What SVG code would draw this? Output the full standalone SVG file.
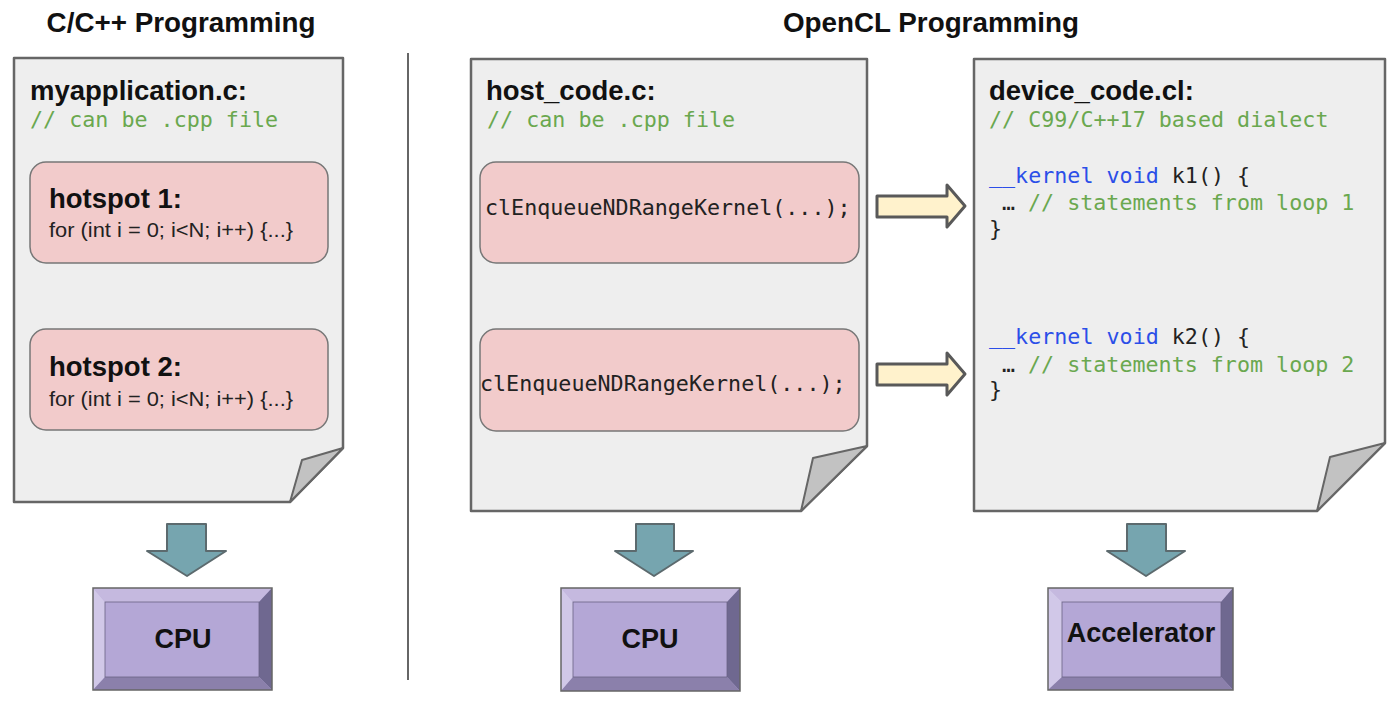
<svg xmlns="http://www.w3.org/2000/svg" width="1400" height="705" viewBox="0 0 1400 705">
<style>
.hdr{font-family:"Liberation Sans",Arial,sans-serif;font-weight:bold;font-size:27.8px;fill:#111}
.ttl{font-family:"Liberation Sans",Arial,sans-serif;font-weight:bold;font-size:27.5px;fill:#111}
.reg{font-family:"Liberation Sans",Arial,sans-serif;font-size:20px;fill:#222}
.mono{font-family:"DejaVu Sans Mono","Liberation Mono",monospace;font-size:21.7px;fill:#222}
.cmt{fill:#6aa84f}
.kw{fill:#2b4ee8}
.doc{fill:#eeeeee;stroke:#666;stroke-width:2.5;stroke-linejoin:round}
.fold{fill:#c2c2c2;stroke:#666;stroke-width:2;stroke-linejoin:round}
.spot{fill:#f2cbcb;stroke:#777;stroke-width:1.5}
.down{fill:#76a5af;stroke:#5c6a6e;stroke-width:2;stroke-linejoin:round}
.right{fill:#fff2cc;stroke:#595959;stroke-width:3;stroke-linejoin:round}
.bt{fill:#c5b9df}.bl{fill:#d1c8e8}.br{fill:#6f6890}.bb{fill:#8b80ab}.bf{fill:#b4a7d6}
.bo{fill:none;stroke:#666;stroke-width:1.5}
.bi{fill:none;stroke:#6a6384;stroke-width:0.8}
.cpu{font-family:"Liberation Sans",Arial,sans-serif;font-weight:bold;font-size:27px;fill:#111;text-anchor:middle}
</style>
<rect width="1400" height="705" fill="#ffffff"/>

<g id="headers">
<text class="hdr" x="181" y="32" text-anchor="middle">C/C++ Programming</text>
<text class="hdr" x="931" y="32" text-anchor="middle">OpenCL Programming</text>
<line x1="408" y1="53" x2="408" y2="680" stroke="#666" stroke-width="2"/>
</g>

<g id="doc-myapplication">
<path class="doc" d="M14,58 H343 V448 L290,502 H14 Z"/>
<path class="fold" d="M290,502 L302,460 L343,448 Z"/>
<text class="ttl" x="30" y="100">myapplication.c:</text>
<text class="mono cmt" x="30" y="127">// can be .cpp file</text>
</g>
<g id="hotspot1">
<rect class="spot" x="30" y="162" width="298" height="101" rx="16"/>
<text class="ttl" x="49" y="208">hotspot 1:</text>
<text class="reg" x="49" y="237" textLength="244" lengthAdjust="spacingAndGlyphs">for (int i = 0; i&lt;N; i++) {...}</text>
</g>
<g id="hotspot2">
<rect class="spot" x="30" y="329" width="298" height="101" rx="16"/>
<text class="ttl" x="49" y="376">hotspot 2:</text>
<text class="reg" x="49" y="406" textLength="244" lengthAdjust="spacingAndGlyphs">for (int i = 0; i&lt;N; i++) {...}</text>
</g>

<g id="doc-host">
<path class="doc" d="M471,59 H867 V446 L801,511 H471 Z"/>
<path class="fold" d="M801,511 L813,458 L867,446 Z"/>
<text class="ttl" x="486" y="100">host_code.c:</text>
<text class="mono cmt" x="487" y="127">// can be .cpp file</text>
</g>
<g id="enqueue1">
<rect class="spot" x="480" y="162" width="379" height="101" rx="16"/>
<text class="mono" x="485" y="215">clEnqueueNDRangeKernel(...);</text>
</g>
<g id="enqueue2">
<rect class="spot" x="480" y="329" width="379" height="102" rx="16"/>
<text class="mono" x="480" y="391">clEnqueueNDRangeKernel(...);</text>
</g>

<g id="doc-device">
<path class="doc" d="M974,59 H1385 V443 L1317,511 H974 Z"/>
<path class="fold" d="M1317,511 L1330,457 L1385,443 Z"/>
<text class="ttl" x="989" y="100">device_code.cl:</text>
<text class="mono cmt" x="989" y="127">// C99/C++17 based dialect</text>
<text class="mono" x="989" y="183"><tspan class="kw">__kernel void</tspan> k1() {</text>
<text class="mono" x="1002" y="210">…<tspan class="cmt" x="1028">// statements from loop 1</tspan></text>
<text class="mono" x="989" y="236">}</text>
<text class="mono" x="989" y="344"><tspan class="kw">__kernel void</tspan> k2() {</text>
<text class="mono" x="1002" y="372">…<tspan class="cmt" x="1028">// statements from loop 2</tspan></text>
<text class="mono" x="989" y="397">}</text>
</g>

<g id="cpu1">
<rect class="bf" x="93" y="588" width="179" height="102"/>
<polygon class="bt" points="93,588 272,588 259,602 105,602"/>
<polygon class="bl" points="93,588 105,602 105,677 93,690"/>
<polygon class="br" points="272,588 272,690 259,677 259,602"/>
<polygon class="bb" points="93,690 105,677 259,677 272,690"/>
<rect class="bi" x="105" y="602" width="154" height="75"/>
<rect class="bo" x="93" y="588" width="179" height="102"/>
<text class="cpu" x="183" y="648">CPU</text>
</g>
<g id="cpu2">
<rect class="bf" x="561" y="588" width="179" height="103"/>
<polygon class="bt" points="561,588 740,588 727,602 573,602"/>
<polygon class="bl" points="561,588 573,602 573,677 561,691"/>
<polygon class="br" points="740,588 740,691 727,677 727,602"/>
<polygon class="bb" points="561,691 573,677 727,677 740,691"/>
<rect class="bi" x="573" y="602" width="154" height="75"/>
<rect class="bo" x="561" y="588" width="179" height="103"/>
<text class="cpu" x="650" y="648">CPU</text>
</g>
<g id="accelerator">
<rect class="bf" x="1048" y="588" width="185" height="102"/>
<polygon class="bt" points="1048,588 1233,588 1221,602 1062,602"/>
<polygon class="bl" points="1048,588 1062,602 1062,677 1048,690"/>
<polygon class="br" points="1233,588 1233,690 1221,677 1221,602"/>
<polygon class="bb" points="1048,690 1062,677 1221,677 1233,690"/>
<rect class="bi" x="1062" y="602" width="159" height="75"/>
<rect class="bo" x="1048" y="588" width="185" height="102"/>
<text class="cpu" x="1141" y="642">Accelerator</text>
</g>

<g id="connectors">
<polygon class="down" points="167,524 206,524 206,551 226,551 187,576 147,551 167,551"/>
<polygon class="down" points="636,524 674,524 674,551 693,551 654,576 615,551 636,551"/>
<polygon class="down" points="1127,524 1166,524 1166,551 1185,551 1146,576 1107,551 1127,551"/>
<polygon class="right" points="877,196 947,196 947,185 965,206 947,227 947,217 877,217"/>
<polygon class="right" points="877,364 947,364 947,353 965,374 947,395 947,385 877,385"/>
</g>
</svg>
